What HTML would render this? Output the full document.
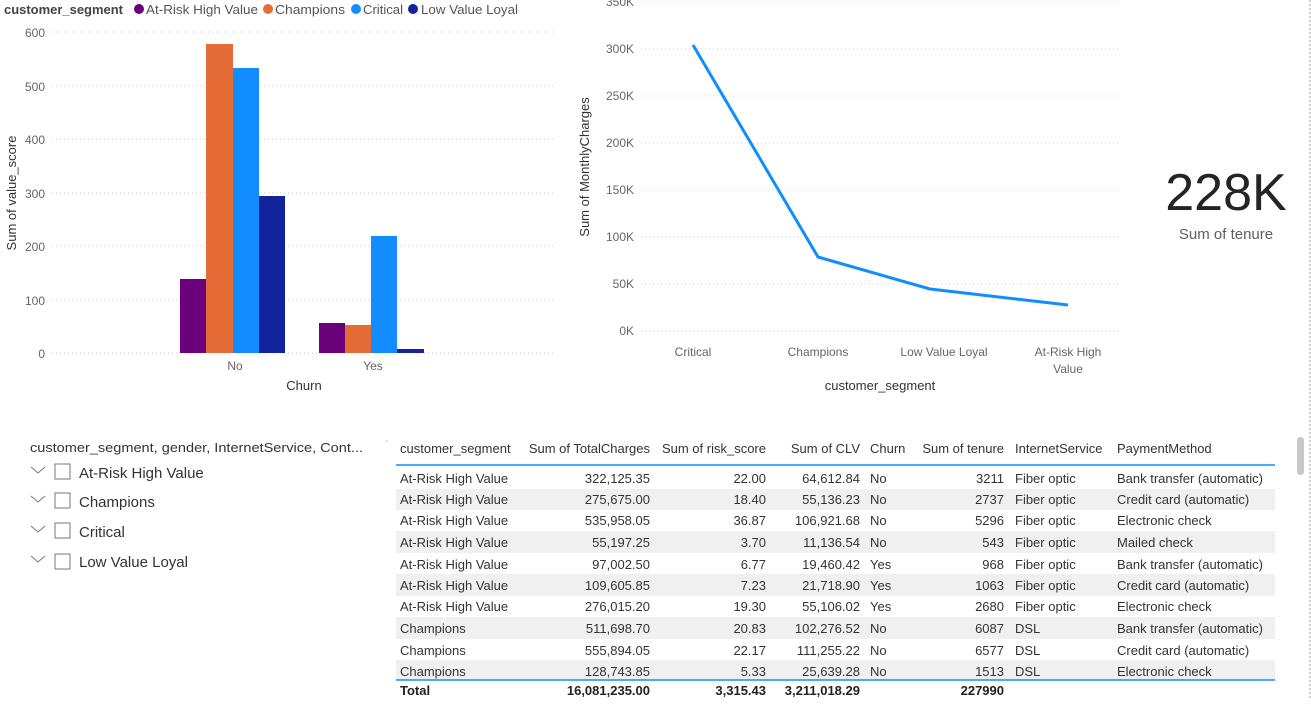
<!DOCTYPE html>
<html><head><meta charset="utf-8"><style>
body{margin:0;background:#fff;width:1311px;height:700px;overflow:hidden;font-family:"Liberation Sans",sans-serif;}
svg text{font-family:"Liberation Sans",sans-serif;}
</style></head><body>
<svg width="1311" height="700" viewBox="0 0 1311 700" xmlns="http://www.w3.org/2000/svg">
<!-- Legend -->
<text x="4" y="14" font-size="13" font-weight="bold" fill="#444" textLength="119" lengthAdjust="spacingAndGlyphs">customer_segment</text>
<circle cx="139" cy="9" r="5" fill="#6b007b"/><text x="146" y="14" font-size="13" fill="#555" textLength="112" lengthAdjust="spacingAndGlyphs">At-Risk High Value</text>
<circle cx="268" cy="9" r="5" fill="#e66c37"/><text x="275" y="14" font-size="13" fill="#555" textLength="70" lengthAdjust="spacingAndGlyphs">Champions</text>
<circle cx="356" cy="9" r="5" fill="#118dff"/><text x="363" y="14" font-size="13" fill="#555" textLength="40" lengthAdjust="spacingAndGlyphs">Critical</text>
<circle cx="413" cy="9" r="5" fill="#12239e"/><text x="421" y="14" font-size="13" fill="#555" textLength="97" lengthAdjust="spacingAndGlyphs">Low Value Loyal</text>
<!-- Bar chart grid -->
<g stroke="#ccc" stroke-dasharray="1,3" stroke-width="1">
<line x1="52" y1="32" x2="555" y2="32"/><line x1="52" y1="86" x2="555" y2="86"/><line x1="52" y1="139" x2="555" y2="139"/><line x1="52" y1="193" x2="555" y2="193"/><line x1="52" y1="246" x2="555" y2="246"/><line x1="52" y1="300" x2="555" y2="300"/><line x1="52" y1="353" x2="555" y2="353"/>
</g>
<g font-size="12" fill="#666" text-anchor="end">
<text x="45" y="37">600</text><text x="45" y="91">500</text><text x="45" y="144">400</text><text x="45" y="198">300</text><text x="45" y="251">200</text><text x="45" y="305">100</text><text x="45" y="358">0</text>
</g>
<text transform="translate(16,193) rotate(-90)" font-size="13" fill="#333" text-anchor="middle">Sum of value_score</text>
<rect x="180" y="279" width="26" height="74" fill="#6b007b"/>
<rect x="206" y="44" width="27" height="309" fill="#e66c37"/>
<rect x="233" y="68" width="26" height="285" fill="#118dff"/>
<rect x="259" y="196" width="26" height="157" fill="#12239e"/>
<rect x="319" y="323" width="26" height="30" fill="#6b007b"/>
<rect x="345" y="325" width="26" height="28" fill="#e66c37"/>
<rect x="371" y="236" width="26" height="117" fill="#118dff"/>
<rect x="397" y="349" width="27" height="4" fill="#12239e"/>
<text x="235" y="370" font-size="12" fill="#666" text-anchor="middle">No</text>
<text x="373" y="370" font-size="12" fill="#666" text-anchor="middle">Yes</text>
<text x="304" y="390" font-size="13" fill="#333" text-anchor="middle">Churn</text>
<!-- Line chart -->
<g stroke="#ccc" stroke-dasharray="1,3" stroke-width="1">
<line x1="641" y1="2" x2="1118" y2="2"/><line x1="641" y1="49" x2="1118" y2="49"/><line x1="641" y1="96" x2="1118" y2="96"/><line x1="641" y1="143" x2="1118" y2="143"/><line x1="641" y1="190" x2="1118" y2="190"/><line x1="641" y1="237" x2="1118" y2="237"/><line x1="641" y1="284" x2="1118" y2="284"/><line x1="641" y1="331" x2="1118" y2="331"/>
</g>
<g font-size="12" fill="#666" text-anchor="end">
<text x="634" y="6">350K</text><text x="634" y="53">300K</text><text x="634" y="100">250K</text><text x="634" y="147">200K</text><text x="634" y="194">150K</text><text x="634" y="241">100K</text><text x="634" y="288">50K</text><text x="634" y="335">0K</text>
</g>
<text transform="translate(589,167) rotate(-90)" font-size="13" fill="#333" text-anchor="middle">Sum of MonthlyCharges</text>
<path d="M693,45 L818,257 Q870,272 930,289 L1068,305" fill="none" stroke="#118dff" stroke-width="3" stroke-linejoin="round"/>
<g font-size="12" fill="#666" text-anchor="middle">
<text x="693" y="356">Critical</text><text x="818" y="356">Champions</text><text x="944" y="356">Low Value Loyal</text><text x="1068" y="356">At-Risk High</text><text x="1068" y="373">Value</text>
</g>
<text x="880" y="390" font-size="13" fill="#333" text-anchor="middle">customer_segment</text>
<!-- KPI -->
<text x="1226" y="210" font-size="52" fill="#252423" text-anchor="middle">228K</text>
<text x="1226" y="239" font-size="15" fill="#605e5c" text-anchor="middle">Sum of tenure</text>
<line x1="1310" y1="0" x2="1310" y2="700" stroke="#999" stroke-dasharray="2,2"/>
<!-- Slicer -->
<text x="30" y="452" font-size="13" fill="#333" textLength="333" lengthAdjust="spacingAndGlyphs">customer_segment, gender, InternetService, Cont...</text>
<text x="385" y="448" font-size="10" fill="#999">`</text>
<g fill="none" stroke="#777" stroke-width="1">
<polyline points="31,467 38,473 45,467"/><rect x="55" y="464" width="15" height="15"/>
<polyline points="31,496 38,502 45,496"/><rect x="55" y="493" width="15" height="15"/>
<polyline points="31,526 38,532 45,526"/><rect x="55" y="523" width="15" height="15"/>
<polyline points="31,556 38,562 45,556"/><rect x="55" y="554" width="15" height="15"/>
</g>
<g font-size="15" fill="#333">
<text x="79" y="478">At-Risk High Value</text><text x="79" y="507">Champions</text><text x="79" y="537">Critical</text><text x="79" y="567">Low Value Loyal</text>
</g>
<!-- Table -->
<g fill="#f0f0f0">
<rect x="396" y="489" width="879" height="21"/><rect x="396" y="531" width="879" height="22"/><rect x="396" y="574" width="879" height="22"/><rect x="396" y="617" width="879" height="22"/><rect x="396" y="660" width="879" height="20"/>
</g>
<line x1="396" y1="465" x2="1275" y2="465" stroke="#118dff" stroke-width="1.5"/>
<line x1="396" y1="680" x2="1275" y2="680" stroke="#118dff" stroke-width="1.5"/>
<rect x="1297" y="437" width="7" height="38" rx="3" fill="#c8c8c8"/>
<g font-size="13" fill="#333">
<text x="400" y="453">customer_segment</text>
<text x="650" y="453" text-anchor="end">Sum of TotalCharges</text>
<text x="766" y="453" text-anchor="end">Sum of risk_score</text>
<text x="860" y="453" text-anchor="end">Sum of CLV</text>
<text x="870" y="453">Churn</text>
<text x="1004" y="453" text-anchor="end">Sum of tenure</text>
<text x="1015" y="453">InternetService</text>
<text x="1117" y="453">PaymentMethod</text>
</g>
<g font-size="13" fill="#333" id="rows">
<g transform="translate(0,483)"><text x="400">At-Risk High Value</text><text x="650" text-anchor="end">322,125.35</text><text x="766" text-anchor="end">22.00</text><text x="860" text-anchor="end">64,612.84</text><text x="870">No</text><text x="1004" text-anchor="end">3211</text><text x="1015">Fiber optic</text><text x="1117">Bank transfer (automatic)</text></g>
<g transform="translate(0,504)"><text x="400">At-Risk High Value</text><text x="650" text-anchor="end">275,675.00</text><text x="766" text-anchor="end">18.40</text><text x="860" text-anchor="end">55,136.23</text><text x="870">No</text><text x="1004" text-anchor="end">2737</text><text x="1015">Fiber optic</text><text x="1117">Credit card (automatic)</text></g>
<g transform="translate(0,525)"><text x="400">At-Risk High Value</text><text x="650" text-anchor="end">535,958.05</text><text x="766" text-anchor="end">36.87</text><text x="860" text-anchor="end">106,921.68</text><text x="870">No</text><text x="1004" text-anchor="end">5296</text><text x="1015">Fiber optic</text><text x="1117">Electronic check</text></g>
<g transform="translate(0,547)"><text x="400">At-Risk High Value</text><text x="650" text-anchor="end">55,197.25</text><text x="766" text-anchor="end">3.70</text><text x="860" text-anchor="end">11,136.54</text><text x="870">No</text><text x="1004" text-anchor="end">543</text><text x="1015">Fiber optic</text><text x="1117">Mailed check</text></g>
<g transform="translate(0,569)"><text x="400">At-Risk High Value</text><text x="650" text-anchor="end">97,002.50</text><text x="766" text-anchor="end">6.77</text><text x="860" text-anchor="end">19,460.42</text><text x="870">Yes</text><text x="1004" text-anchor="end">968</text><text x="1015">Fiber optic</text><text x="1117">Bank transfer (automatic)</text></g>
<g transform="translate(0,590)"><text x="400">At-Risk High Value</text><text x="650" text-anchor="end">109,605.85</text><text x="766" text-anchor="end">7.23</text><text x="860" text-anchor="end">21,718.90</text><text x="870">Yes</text><text x="1004" text-anchor="end">1063</text><text x="1015">Fiber optic</text><text x="1117">Credit card (automatic)</text></g>
<g transform="translate(0,611)"><text x="400">At-Risk High Value</text><text x="650" text-anchor="end">276,015.20</text><text x="766" text-anchor="end">19.30</text><text x="860" text-anchor="end">55,106.02</text><text x="870">Yes</text><text x="1004" text-anchor="end">2680</text><text x="1015">Fiber optic</text><text x="1117">Electronic check</text></g>
<g transform="translate(0,633)"><text x="400">Champions</text><text x="650" text-anchor="end">511,698.70</text><text x="766" text-anchor="end">20.83</text><text x="860" text-anchor="end">102,276.52</text><text x="870">No</text><text x="1004" text-anchor="end">6087</text><text x="1015">DSL</text><text x="1117">Bank transfer (automatic)</text></g>
<g transform="translate(0,655)"><text x="400">Champions</text><text x="650" text-anchor="end">555,894.05</text><text x="766" text-anchor="end">22.17</text><text x="860" text-anchor="end">111,255.22</text><text x="870">No</text><text x="1004" text-anchor="end">6577</text><text x="1015">DSL</text><text x="1117">Credit card (automatic)</text></g>
<g transform="translate(0,676)"><text x="400">Champions</text><text x="650" text-anchor="end">128,743.85</text><text x="766" text-anchor="end">5.33</text><text x="860" text-anchor="end">25,639.28</text><text x="870">No</text><text x="1004" text-anchor="end">1513</text><text x="1015">DSL</text><text x="1117">Electronic check</text></g>
</g>
<g font-size="13" fill="#222" font-weight="bold" transform="translate(0,695)">
<text x="400">Total</text><text x="650" text-anchor="end">16,081,235.00</text><text x="766" text-anchor="end">3,315.43</text><text x="860" text-anchor="end">3,211,018.29</text><text x="1004" text-anchor="end">227990</text>
</g>
</svg>
</body></html>
